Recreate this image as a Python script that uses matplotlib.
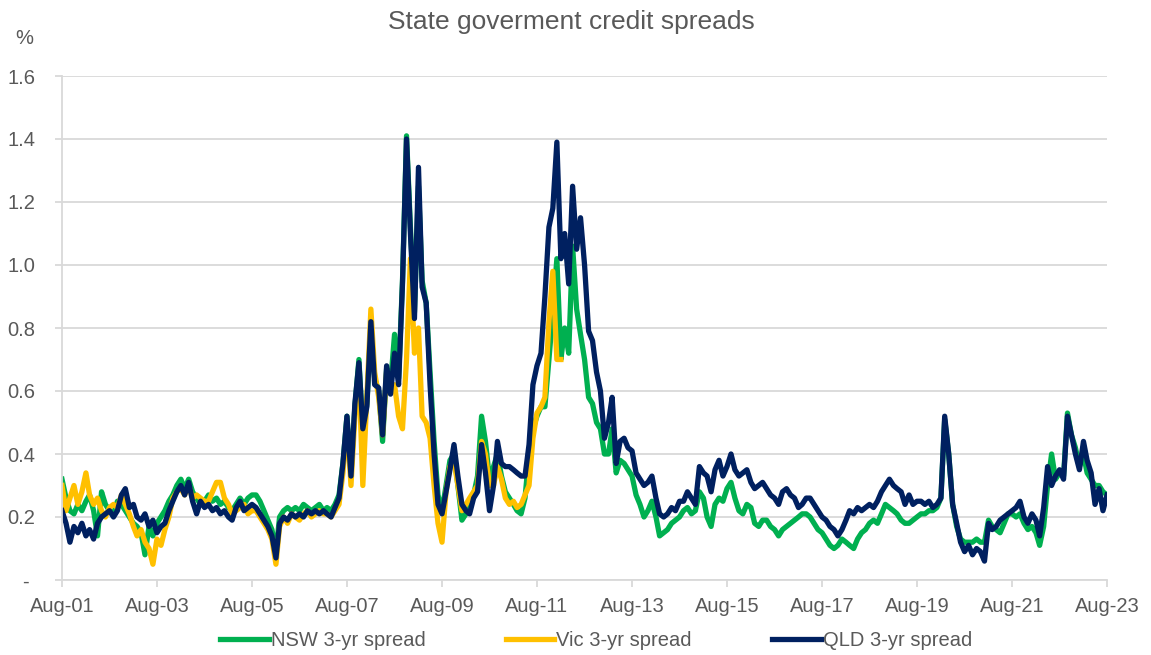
import numpy as np
import pandas as pd
import matplotlib
matplotlib.use('Agg')
import matplotlib.pyplot as plt
import matplotlib.dates as mdates

# monthly readings, Aug-01 .. Aug-23 (one row per Aug..Jul year)
qld = [0.22, 0.18, 0.12, 0.17, 0.15, 0.18, 0.14, 0.16, 0.13, 0.18, 0.20, 0.21,
       0.22, 0.20, 0.22, 0.27, 0.29, 0.23, 0.24, 0.20, 0.19, 0.21, 0.17, 0.19,
       0.15, 0.17, 0.18, 0.22, 0.25, 0.28, 0.30, 0.27, 0.31, 0.25, 0.21, 0.25,
       0.23, 0.24, 0.22, 0.23, 0.21, 0.22, 0.20, 0.19, 0.23, 0.25, 0.22, 0.23,
       0.24, 0.23, 0.21, 0.19, 0.17, 0.14, 0.07, 0.18, 0.20, 0.19, 0.21, 0.20,
       0.21, 0.20, 0.22, 0.21, 0.22, 0.21, 0.22, 0.21, 0.20, 0.23, 0.26, 0.37,
       0.52, 0.33, 0.56, 0.69, 0.48, 0.55, 0.82, 0.62, 0.61, 0.46, 0.68, 0.59,
       0.72, 0.62, 0.94, 1.40, 1.10, 0.83, 1.31, 0.93, 0.88, 0.62, 0.40, 0.24,
       0.21, 0.28, 0.35, 0.43, 0.33, 0.24, 0.22, 0.21, 0.26, 0.28, 0.43, 0.34,
       0.22, 0.30, 0.44, 0.37, 0.36, 0.36, 0.35, 0.34, 0.33, 0.33, 0.43, 0.62,
       0.68, 0.72, 0.90, 1.12, 1.18, 1.39, 1.02, 1.10, 0.94, 1.25, 1.05, 1.15,
       1.00, 0.79, 0.76, 0.66, 0.60, 0.45, 0.50, 0.58, 0.37, 0.44, 0.45, 0.42,
       0.41, 0.34, 0.32, 0.30, 0.31, 0.33, 0.26, 0.21, 0.20, 0.21, 0.23, 0.22,
       0.25, 0.25, 0.28, 0.26, 0.24, 0.36, 0.34, 0.33, 0.28, 0.35, 0.38, 0.33,
       0.36, 0.40, 0.35, 0.33, 0.34, 0.35, 0.31, 0.29, 0.30, 0.31, 0.29, 0.27,
       0.26, 0.24, 0.28, 0.29, 0.27, 0.26, 0.23, 0.24, 0.26, 0.26, 0.24, 0.22,
       0.20, 0.19, 0.17, 0.16, 0.14, 0.16, 0.19, 0.22, 0.21, 0.23, 0.22, 0.23,
       0.24, 0.23, 0.25, 0.28, 0.30, 0.32, 0.30, 0.29, 0.28, 0.24, 0.27, 0.24,
       0.25, 0.25, 0.24, 0.25, 0.23, 0.24, 0.26, 0.52, 0.40, 0.24, 0.18, 0.12,
       0.09, 0.11, 0.08, 0.10, 0.09, 0.06, 0.18, 0.16, 0.17, 0.19, 0.20, 0.21,
       0.22, 0.23, 0.25, 0.20, 0.18, 0.21, 0.19, 0.14, 0.23, 0.36, 0.30, 0.33,
       0.35, 0.32, 0.52, 0.46, 0.40, 0.35, 0.44, 0.38, 0.34, 0.24, 0.29, 0.22,
       0.27]

nsw = [0.32, 0.26, 0.22, 0.21, 0.24, 0.22, 0.25, 0.27, 0.22, 0.14, 0.28, 0.24,
       0.22, 0.21, 0.25, 0.24, 0.22, 0.20, 0.18, 0.17, 0.15, 0.08, 0.17, 0.14,
       0.18, 0.20, 0.22, 0.25, 0.27, 0.30, 0.32, 0.29, 0.32, 0.28, 0.26, 0.24,
       0.25, 0.27, 0.25, 0.26, 0.24, 0.25, 0.23, 0.22, 0.24, 0.26, 0.24, 0.26,
       0.27, 0.27, 0.25, 0.22, 0.19, 0.16, 0.09, 0.20, 0.22, 0.23, 0.22, 0.23,
       0.22, 0.24, 0.23, 0.22, 0.23, 0.24, 0.22, 0.23, 0.22, 0.24, 0.27, 0.37,
       0.52, 0.34, 0.55, 0.70, 0.47, 0.56, 0.80, 0.64, 0.60, 0.44, 0.67, 0.62,
       0.78, 0.64, 0.95, 1.41, 1.12, 0.85, 1.25, 0.95, 0.88, 0.66, 0.44, 0.27,
       0.22, 0.30, 0.38, 0.40, 0.30, 0.19, 0.21, 0.24, 0.27, 0.33, 0.52, 0.44,
       0.32, 0.36, 0.40, 0.33, 0.28, 0.26, 0.24, 0.22, 0.21, 0.26, 0.40, 0.48,
       0.52, 0.55, 0.55, 0.70, 0.85, 1.02, 0.70, 0.80, 0.72, 1.06, 0.86, 0.78,
       0.70, 0.58, 0.56, 0.50, 0.48, 0.40, 0.40, 0.48, 0.34, 0.38, 0.37, 0.35,
       0.33, 0.27, 0.24, 0.20, 0.22, 0.25, 0.20, 0.14, 0.15, 0.16, 0.18, 0.19,
       0.20, 0.22, 0.23, 0.21, 0.22, 0.28, 0.26, 0.20, 0.17, 0.24, 0.26, 0.25,
       0.29, 0.31, 0.26, 0.22, 0.21, 0.24, 0.23, 0.18, 0.17, 0.19, 0.19, 0.17,
       0.16, 0.14, 0.16, 0.17, 0.18, 0.19, 0.20, 0.21, 0.21, 0.20, 0.18, 0.16,
       0.15, 0.13, 0.11, 0.10, 0.11, 0.13, 0.12, 0.11, 0.10, 0.13, 0.15, 0.16,
       0.18, 0.19, 0.18, 0.21, 0.24, 0.23, 0.22, 0.21, 0.19, 0.18, 0.18, 0.19,
       0.20, 0.21, 0.21, 0.22, 0.22, 0.23, 0.26, 0.51, 0.40, 0.24, 0.17, 0.13,
       0.12, 0.12, 0.12, 0.13, 0.12, 0.12, 0.19, 0.17, 0.16, 0.15, 0.18, 0.21,
       0.21, 0.20, 0.21, 0.18, 0.16, 0.17, 0.15, 0.11, 0.17, 0.30, 0.40, 0.32,
       0.34, 0.33, 0.53, 0.46, 0.42, 0.36, 0.40, 0.34, 0.32, 0.30, 0.30, 0.28,
       0.27]

# Vic series stops early 2012
vic = [0.30, 0.22, 0.26, 0.30, 0.24, 0.28, 0.34, 0.27, 0.24, 0.26, 0.22, 0.20,
       0.23, 0.24, 0.23, 0.27, 0.24, 0.21, 0.17, 0.14, 0.16, 0.12, 0.10, 0.05,
       0.13, 0.11, 0.16, 0.20, 0.26, 0.28, 0.29, 0.27, 0.30, 0.26, 0.27, 0.26,
       0.25, 0.25, 0.28, 0.31, 0.31, 0.26, 0.24, 0.21, 0.22, 0.23, 0.24, 0.21,
       0.22, 0.22, 0.20, 0.18, 0.16, 0.13, 0.05, 0.17, 0.20, 0.18, 0.21, 0.20,
       0.19, 0.21, 0.22, 0.20, 0.21, 0.22, 0.21, 0.21, 0.20, 0.22, 0.24, 0.34,
       0.50, 0.30, 0.52, 0.66, 0.30, 0.58, 0.86, 0.66, 0.58, 0.46, 0.66, 0.60,
       0.62, 0.52, 0.48, 0.70, 1.02, 0.72, 0.80, 0.52, 0.50, 0.45, 0.30, 0.18,
       0.12, 0.28, 0.36, 0.38, 0.30, 0.22, 0.24, 0.26, 0.28, 0.30, 0.44, 0.40,
       0.30, 0.30, 0.36, 0.32, 0.26, 0.24, 0.25, 0.23, 0.24, 0.27, 0.30, 0.45,
       0.53, 0.55, 0.58, 0.82, 0.98, 0.70, 0.70]

start = '2001-08-01'
d_qld = pd.date_range(start, periods=len(qld), freq='MS')
d_nsw = pd.date_range(start, periods=len(nsw), freq='MS')
d_vic = pd.date_range(start, periods=len(vic), freq='MS')

plt.rcParams['font.family'] = ['Liberation Sans', 'DejaVu Sans']
txt = '#595959'
grid = '#D9D9D9'

fig = plt.figure(figsize=(11.51, 6.55), dpi=100)
ax = fig.add_axes([62/1151, 1-580/655, (1107-62)/1151, (580-76)/655])

lw = 3.8
ax.plot(d_nsw, nsw, color='#00B050', lw=lw, label='NSW 3-yr spread', solid_joinstyle='round')
ax.plot(d_vic, vic, color='#FFC000', lw=lw, label='Vic 3-yr spread', solid_joinstyle='round')
ax.plot(d_qld, qld, color='#002060', lw=lw, label='QLD 3-yr spread', solid_joinstyle='round')

ax.set_ylim(0, 1.6)
ax.set_xlim(pd.Timestamp('2001-08-01'), pd.Timestamp('2023-08-01'))
yt = np.arange(0, 1.61, 0.2)
ax.set_yticks(yt)
ax.set_yticklabels(['- '] + ['%.1f' % v for v in yt[1:]])
ax.yaxis.grid(True, color=grid, lw=1.3)
ax.set_axisbelow(True)

xt = pd.date_range('2001-08-01', '2023-08-01', freq='24MS')
ax.set_xticks(xt)
ax.xaxis.set_major_formatter(mdates.DateFormatter('%b-%y'))

for s in ['top', 'right']:
    ax.spines[s].set_visible(False)
ax.spines['left'].set_color(grid)
ax.spines['left'].set_linewidth(1.3)
ax.spines['bottom'].set_color(grid)
ax.spines['bottom'].set_linewidth(1.3)
ax.tick_params(axis='y', colors=grid, labelcolor=txt, labelsize=14.5, length=5, width=1.3, pad=14)
ax.tick_params(axis='x', colors=grid, labelcolor=txt, labelsize=14.5, length=5, width=1.3, pad=7)

fig.text(571/1151, 1-22/655, 'State goverment credit spreads', ha='center', va='center',
         fontsize=19, color=txt)
fig.text(24/1151, 1-38/655, '%', ha='center', va='center', fontsize=14.5, color=txt)

leg = fig.legend(loc='center', bbox_to_anchor=(596/1151, 1-641/655), ncol=3, frameon=False,
                 fontsize=14.5, handlelength=2.4, handletextpad=0.1, columnspacing=4.0)
for t in leg.get_texts():
    t.set_color(txt)

fig.savefig('out.png', dpi=100)
